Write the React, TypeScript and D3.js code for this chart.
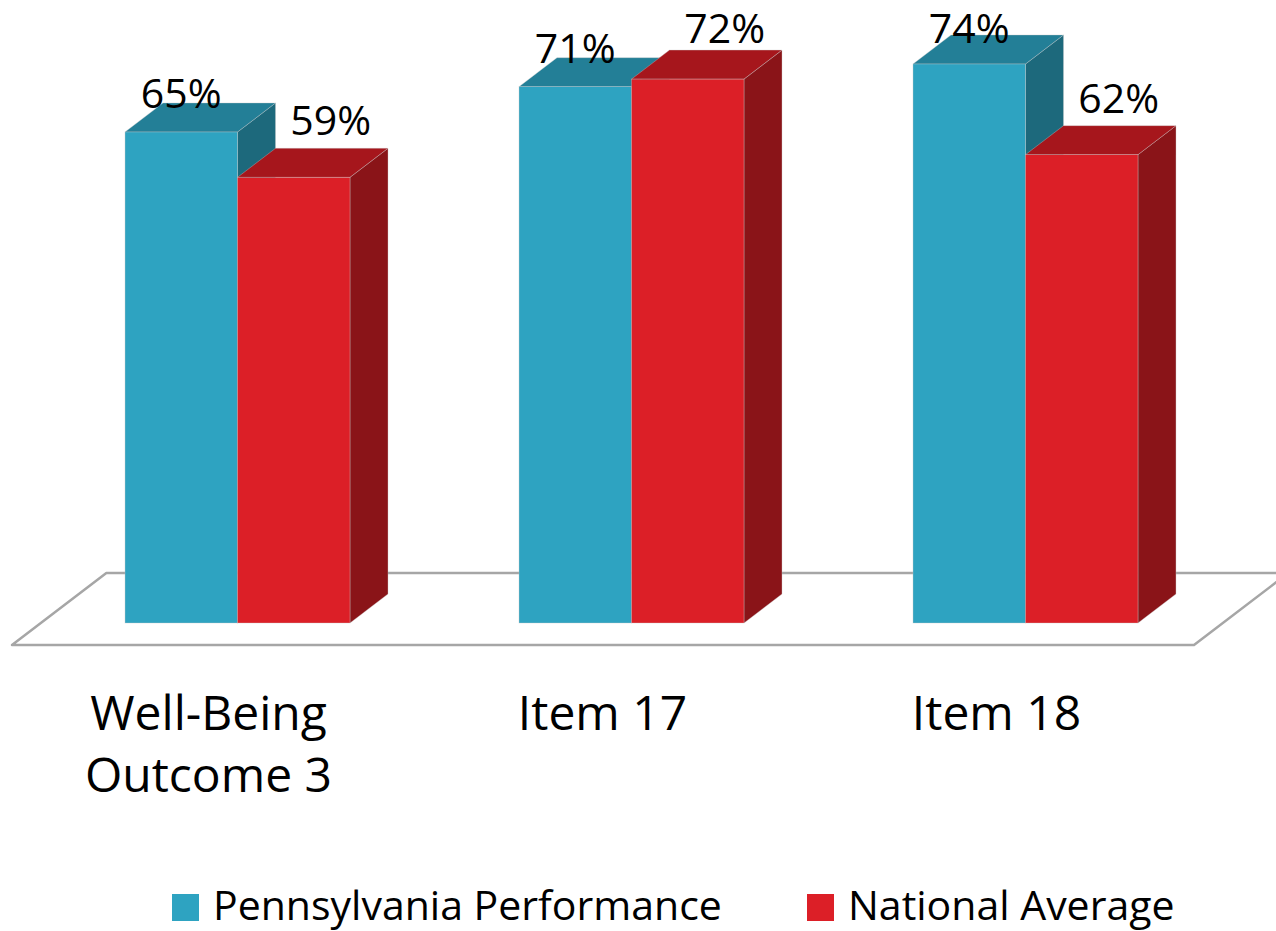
import React from "react";
import * as d3 from "d3";

const categories = ["Well-Being\nOutcome 3", "Item 17", "Item 18"];
const seriesNames = ["Pennsylvania Performance", "National Average"];
const pennsylvania = [65, 71, 74];
const national = [59, 72, 62];
const valueLabels = (v: number) => `${v}%`;

const W = 1276;
const H = 931;
const FONT = "'Open Sans', 'Noto Sans', sans-serif";

const frontColors = ["#2ea3c1", "#dc1f27"];
const topColors = ["#237f97", "#a6161c"];
const sideColors = ["#1d697c", "#8a1418"];

export default function App() {
  const seriesValues = [pennsylvania, national];
  const x = d3
    .scaleBand<string>()
    .domain(categories)
    .range([-44, 1307])
    .paddingInner(0.429)
    .paddingOuter(0.429);
  const xs = d3
    .scaleBand<string>()
    .domain(seriesNames)
    .range([0, x.bandwidth()])
    .padding(0);
  const y = d3.scaleLinear().domain([0, 100]).range([623, 623 - 755.4]);

  const dx = 38;
  const dy = 29;
  const y0 = y(0);

  // floor
  const floorFront = y0 + 22;
  const floorBack = y0 - 50;
  const floorSlope = dx / dy;
  const floorLeft = 12;
  const floorRight = 1194;
  const floorShift = (floorFront - floorBack) * floorSlope;
  const floorPts = [
    [floorLeft, floorFront],
    [floorLeft + floorShift, floorBack],
    [floorRight + floorShift, floorBack],
    [floorRight, floorFront],
  ]
    .map((p) => p.join(","))
    .join(" ");

  const bars: React.ReactNode[] = [];
  const labels: React.ReactNode[] = [];
  categories.forEach((c, ci) => {
    seriesNames.forEach((s, si) => {
      const v = seriesValues[si][ci];
      const bx = (x(c) ?? 0) + (xs(s) ?? 0);
      const bw = xs.bandwidth();
      const yt = y(v);
      const top = [
        [bx, yt],
        [bx + dx, yt - dy],
        [bx + bw + dx, yt - dy],
        [bx + bw, yt],
      ];
      const side = [
        [bx + bw, yt],
        [bx + bw + dx, yt - dy],
        [bx + bw + dx, y0 - dy],
        [bx + bw, y0],
      ];
      const pts = (a: number[][]) => a.map((p) => p.join(",")).join(" ");
      bars.push(
        <g key={`${ci}-${si}`}>
          <polygon points={pts(side)} fill={sideColors[si]} stroke="#c8c8c8" strokeWidth={0.6} strokeOpacity={0.6} />
          <polygon points={pts(top)} fill={topColors[si]} stroke="#c8c8c8" strokeWidth={0.6} strokeOpacity={0.6} />
          <rect x={bx} y={yt} width={bw} height={y0 - yt} fill={frontColors[si]} stroke="#c8c8c8" strokeWidth={0.6} strokeOpacity={0.6} />
        </g>
      );
      const lx = si === 0 ? bx + bw / 2 : bx + bw / 2 + 37;
      const ly = Math.max(si === 0 ? yt - 24 : yt - 42, 43);
      labels.push(
        <text key={`l${ci}-${si}`} x={lx} y={ly} textAnchor="middle" fontSize={41} fill="#000" fontFamily={FONT}>
          {valueLabels(v)}
        </text>
      );
    });
  });

  return (
    <svg
      width={W}
      height={H}
      style={{ position: "absolute", left: 0, top: 0, background: "#fff" }}
    >
      <polygon points={floorPts} fill="#fff" stroke="#a6a6a6" strokeWidth={2.5} strokeLinejoin="round" />
      {bars}
      {labels}
      {categories.map((c) => {
        const lines = c.split("\n");
        const cx = (x(c) ?? 0) + x.bandwidth() / 2 - 29;
        return (
          <text key={c} x={cx} y={730} textAnchor="middle" fontSize={48} fill="#000" fontFamily={FONT}>
            {lines.map((ln, i) => (
              <tspan key={i} x={cx} dy={i === 0 ? 0 : 62}>
                {ln}
              </tspan>
            ))}
          </text>
        );
      })}
      {seriesNames.map((s, si) => {
        const lx = si === 0 ? 172 : 807;
        return (
          <g key={s}>
            <rect x={lx} y={894} width={27} height={27} fill={frontColors[si]} />
            <text x={lx + 41} y={920} fontSize={41} fill="#000" fontFamily={FONT}>
              {s}
            </text>
          </g>
        );
      })}
    </svg>
  );
}
